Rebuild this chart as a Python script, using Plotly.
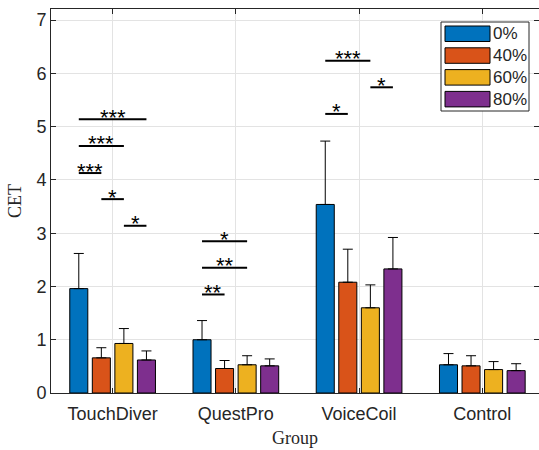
import plotly.graph_objects as go

groups = ["TouchDiver", "QuestPro", "VoiceCoil", "Control"]
levels = ["0%", "40%", "60%", "80%"]
colors = ["#0072BD", "#D95319", "#EDB120", "#7E2F8E"]

# mean CET per level for each group
mean_0 = [1.96, 1.00, 3.54, 0.53]
mean_40 = [0.66, 0.46, 2.08, 0.51]
mean_60 = [0.93, 0.53, 1.60, 0.44]
mean_80 = [0.62, 0.51, 2.33, 0.42]
err_0 = [0.66, 0.36, 1.19, 0.21]
err_40 = [0.19, 0.15, 0.62, 0.19]
err_60 = [0.28, 0.17, 0.43, 0.15]
err_80 = [0.17, 0.13, 0.59, 0.13]
means = [mean_0, mean_40, mean_60, mean_80]
errs = [err_0, err_40, err_60, err_80]

# significance brackets: (group index, bar i, bar j, y, label)
sig_group = [0, 0, 0, 0, 0, 1, 1, 1, 2, 2, 2]
sig_i = [0, 0, 0, 1, 2, 0, 0, 0, 0, 2, 0]
sig_j = [3, 2, 1, 2, 3, 2, 2, 1, 2, 3, 1]
sig_y = [5.14, 4.64, 4.13, 3.64, 3.14, 2.85, 2.35, 1.85, 6.24, 5.74, 5.24]
sig_label = ["***", "***", "***", "*", "*", "*", "**", "**", "***", "*", "*"]

x_pos = [1, 2, 3, 4]
bargap = 0.268
bargroupgap = 0.2
slot = (1 - bargap) / len(levels)

W, H = 539, 450
ml, mr, mt, mb = 51, 0, 9, 57
XR = [0.5, 4.46]
YR = [0, 7.21]

fig = go.Figure()
for k in range(len(levels)):
    fig.add_trace(go.Bar(
        x=x_pos, y=means[k], name=levels[k],
        marker=dict(color=colors[k], line=dict(color="black", width=1)),
        error_y=dict(type="data", symmetric=False, array=errs[k],
                     arrayminus=[0] * len(errs[k]), color="black",
                     thickness=1, width=5),
        showlegend=False,
    ))

star_font = dict(family="Liberation Sans, Arial", size=22, color="black")
for g, i, j, y, lab in zip(sig_group, sig_i, sig_j, sig_y, sig_label):
    x0 = x_pos[g] + (i - 1.5) * slot
    x1 = x_pos[g] + (j - 1.5) * slot
    fig.add_shape(type="line", x0=x0, x1=x1, y0=y, y1=y, xref="x", yref="y",
                  line=dict(color="black", width=2))
    fig.add_annotation(x=(x0 + x1) / 2, y=y, xref="x", yref="y", text=lab,
                       showarrow=False, font=star_font, yanchor="middle",
                       yshift=2)

# custom legend (pixel layout converted to paper coords)
pw = W - ml - mr
ph = H - mt - mb
def px(xp):
    return (xp - ml) / pw
def py(yp):
    return 1 - (yp - mt) / ph

fig.add_shape(type="rect", xref="paper", yref="paper",
              x0=px(441), x1=px(529), y0=py(111), y1=py(22),
              fillcolor="white", line=dict(color="#262626", width=1))
for k in range(len(levels)):
    top = 26 + k * 21.8
    fig.add_shape(type="rect", xref="paper", yref="paper",
                  x0=px(445), x1=px(490), y0=py(top + 15.5), y1=py(top),
                  fillcolor=colors[k], line=dict(color="black", width=1))
    fig.add_annotation(xref="paper", yref="paper", x=px(491), y=py(top + 7.8),
                       text=levels[k], showarrow=False, xanchor="left",
                       yanchor="middle",
                       font=dict(family="Liberation Sans, Arial", size=17,
                                 color="#262626"))

axis_common = dict(
    showline=True, linecolor="#262626", linewidth=1, mirror="allticks",
    ticks="inside", ticklen=5, tickcolor="#262626",
    showgrid=True, gridcolor="#e3e3e3", gridwidth=1, zeroline=False,
    tickfont=dict(family="Liberation Sans, Arial", size=18, color="#262626"),
)

fig.update_layout(
    width=W, height=H,
    margin=dict(l=ml, r=mr, t=mt, b=mb, pad=0),
    paper_bgcolor="white", plot_bgcolor="white",
    barmode="group", bargap=bargap, bargroupgap=bargroupgap,
    xaxis=dict(range=XR, tickvals=x_pos, ticktext=groups,
               ticklabelstandoff=4,
               title=dict(text="Group", standoff=8,
                          font=dict(family="Liberation Serif, Times New Roman",
                                    size=18, color="#262626")),
               **axis_common),
    yaxis=dict(range=YR, tickvals=list(range(8)),
               title=dict(text="CET", standoff=10,
                          font=dict(family="Liberation Serif, Times New Roman",
                                    size=18, color="#262626")),
               **axis_common),
)

fig.write_html("out.html")
